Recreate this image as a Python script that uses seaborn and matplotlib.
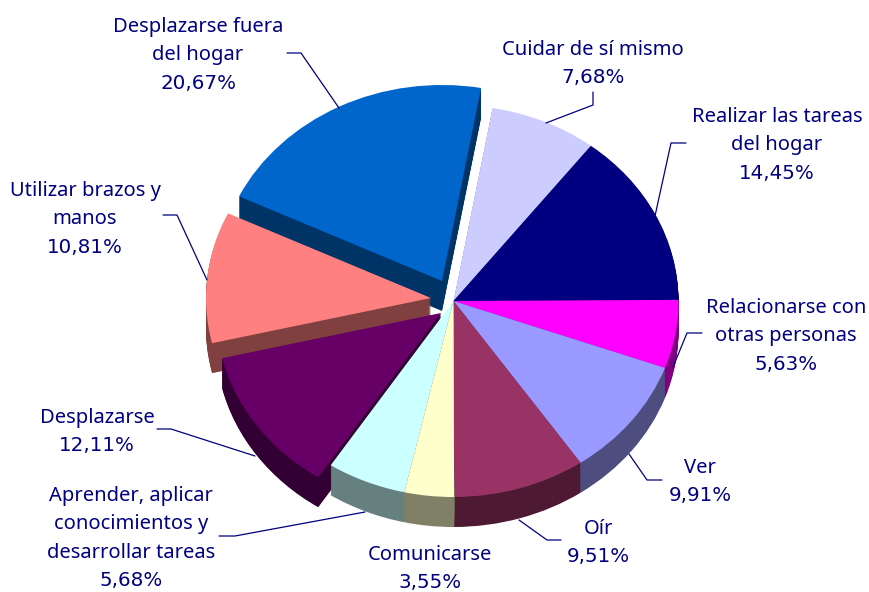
import matplotlib
matplotlib.use("Agg")
import matplotlib.pyplot as plt
import seaborn as sns

# clockwise from the 80 degree start, same order as the sheet
labels = ["Cuidar de sí mismo", "Realizar las tareas\ndel hogar", "Relacionarse con\notras personas",
          "Ver", "Oír", "Comunicarse", "Aprender, aplicar\nconocimientos y\ndesarrollar tareas",
          "Desplazarse", "Utilizar brazos y\nmanos", "Desplazarse fuera\ndel hogar"]
values = [7.68, 14.45, 5.63, 9.91, 9.51, 3.55, 5.68, 12.11, 10.81, 20.67]
value_text = ["7,68%", "14,45%", "5,63%", "9,91%", "9,51%", "3,55%", "5,68%", "12,11%", "10,81%", "20,67%"]
colors = ["#CCCCFF", "#000080", "#FF00FF", "#9999FF", "#993366", "#FFFFCC", "#CCFFFF", "#660066", "#FF8080", "#0066CC"]
side_colors = ["#666680", "#000040", "#800080", "#4D4D80", "#4D1933", "#808066", "#668080", "#330033", "#804040", "#003366"]

# where each pie tip sits, in pixels (exploded slices are off centre)
tips = [(453.5, 301)] * 10
tips[7] = (441, 313)
tips[8] = (431, 298)
tips[9] = (442, 281)

# x centre and y of the first line of each label
label_pos = [(593, 48), (777, 115), (786, 306), (700, 466), (598, 527), (430, 552.5), (131, 494), (97, 416), (85, 189), (198, 25)]
leaders = [
    [(546, 123), (593, 105), (593, 92)],
    [(655, 216), (671, 143), (686, 143)],
    [(673, 367), (687, 333), (702, 333)],
    [(629, 454), (647, 480), (662, 480)],
    [(519, 520), (547, 540), (561, 540)],
    None,
    [(365, 512), (235, 536), (219, 536)],
    [(255, 456), (171, 429), (157, 429)],
    [(207, 280), (177, 215), (163, 215)],
    [(339, 108), (301, 53), (287, 53)],
]
draw_order = [9, 0, 1, 8, 2, 7, 3, 4, 6, 5]

W, H = 869, 592
RX, RY = 225, 196
DEPTH = 30
LINE_H = 28.4

sns.set_theme(style="white")
plt.rcParams["font.family"] = ["Noto Sans", "DejaVu Sans"]

fig = plt.figure(figsize=(W / 100, H / 100), dpi=100)
ax = fig.add_axes([0, 0, 1, 1])

for i in draw_order:
    start = 80 - sum(values[:i]) * 3.6
    cx = tips[i][0] / RX
    cy = (H - tips[i][1]) / RY
    # stack of 1px layers for the thick side, then the top face
    for d in range(DEPTH, 0, -1):
        ax.pie([values[i] / 100], normalize=False, startangle=start, counterclock=False,
               center=(cx, cy - d / RY), radius=1, colors=[side_colors[i]], wedgeprops={"linewidth": 0})
    ax.pie([values[i] / 100], normalize=False, startangle=start, counterclock=False,
           center=(cx, cy), radius=1, colors=[colors[i]], wedgeprops={"linewidth": 0})

ax.set_aspect("auto")
ax.set_xlim(0, W / RX)
ax.set_ylim(0, H / RY)
ax.axis("off")

# labels and leader lines on a pixel overlay
over = fig.add_axes([0, 0, 1, 1])
over.set_xlim(0, W)
over.set_ylim(H, 0)
over.axis("off")
over.patch.set_alpha(0)

for i, name in enumerate(labels):
    x, y = label_pos[i]
    lines = name.split("\n")
    for k, line in enumerate(lines):
        over.text(x, y + k * LINE_H + 7, line, ha="center", va="baseline", color="#000080", fontsize=14.5)
    # digits are wider than Noto's in the original font
    over.text(x, y + len(lines) * LINE_H + 7, value_text[i], ha="center", va="baseline", color="#000080",
              fontsize=14.3, family="DejaVu Sans")
    if leaders[i]:
        over.plot([p[0] for p in leaders[i]], [p[1] for p in leaders[i]], color="#000080", lw=0.9)

fig.savefig("out.png", dpi=100)
